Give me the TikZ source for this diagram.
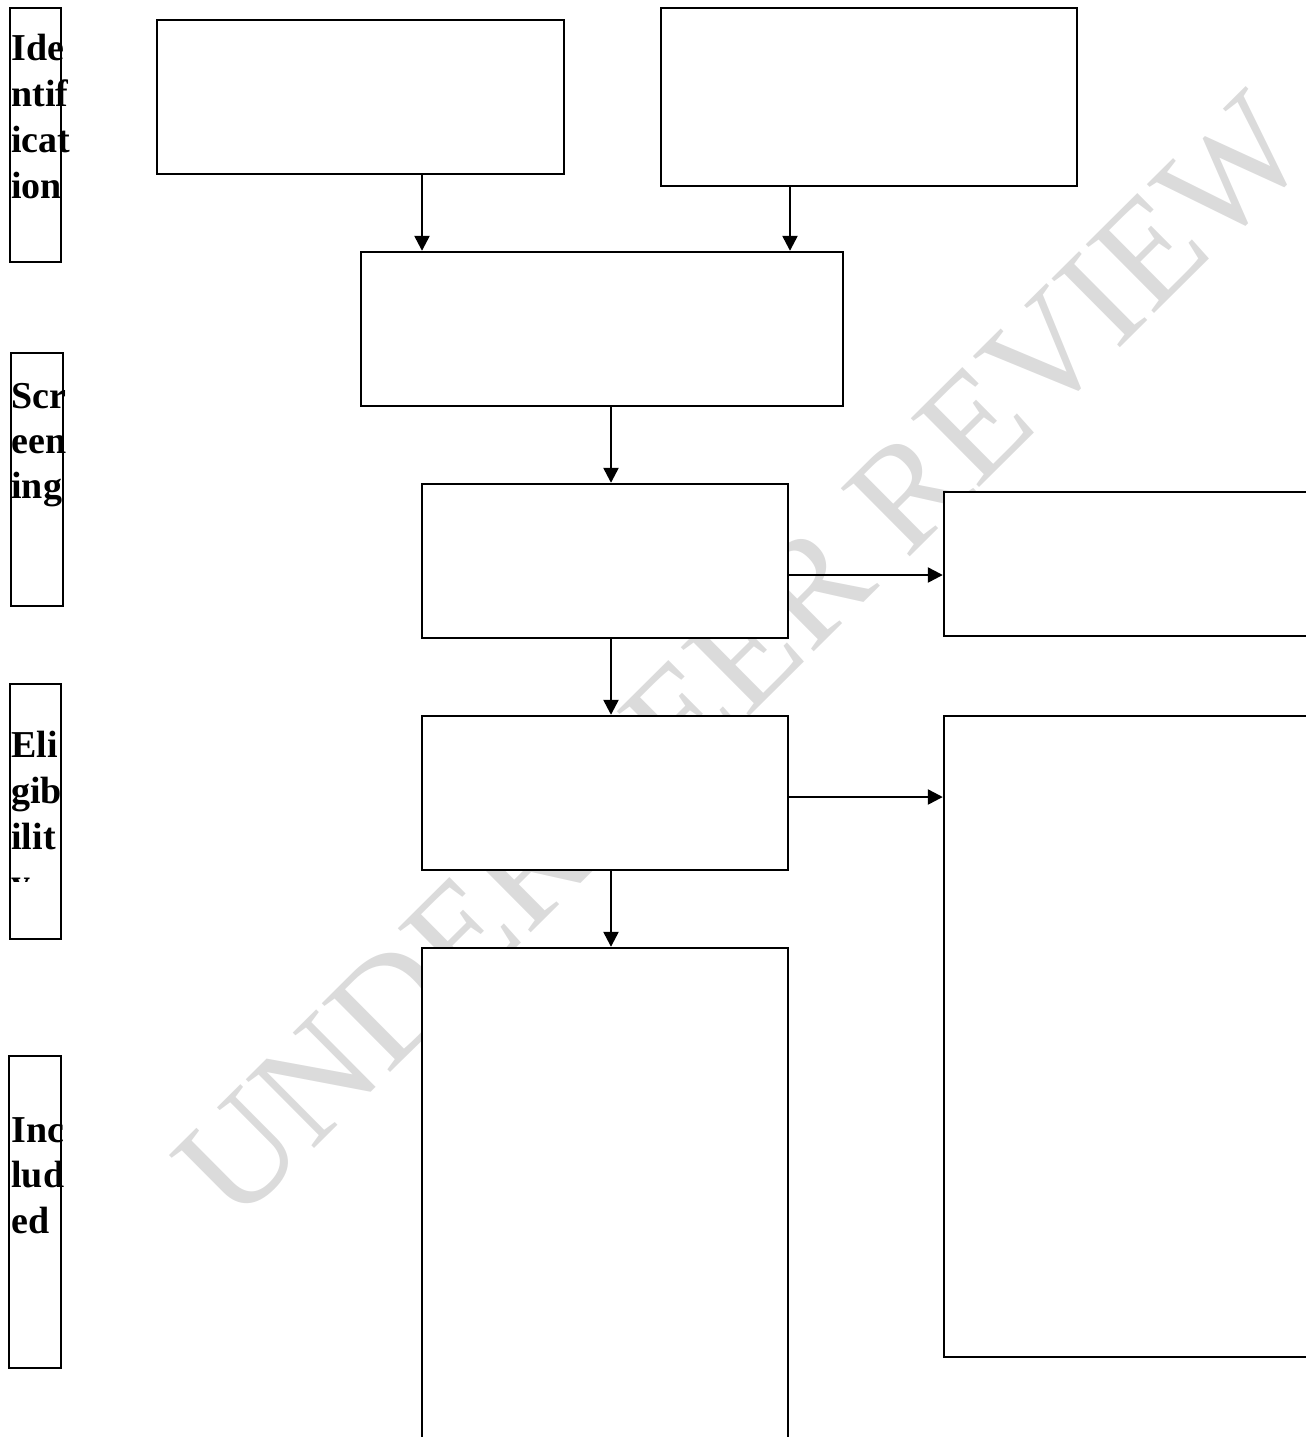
\documentclass[tikz,border=0pt]{standalone}
\usepackage{xcolor}
\usepackage{fontspec}
\setmainfont{Liberation Serif}
\usepackage{tikz}
\usetikzlibrary{positioning,arrows.meta}

\begin{document}
\begin{tikzpicture}[x=0.5pt,y=-0.5pt,
    box/.style={draw, fill=white, line width=1.2pt, inner sep=0pt},
    lbl/.style={anchor=base west, inner sep=0pt, font=\bfseries\fontsize{19}{23}\selectfont},
    wmark/.style={text=black!14, inner sep=0pt, font=\fontsize{74}{80}\selectfont},
    arr/.style={line width=1.2pt, -{Triangle[length=7.5pt,width=7.5pt]}}]

\useasboundingbox (0,0) rectangle (1306,1437);

% watermark
\node[wmark, rotate=44.8] (review) at (742,657) {UNDER PEER REVIEW};

% stage boxes on the left
\node[box, minimum width=25.5pt, minimum height=127pt] (sident) at (35.5,135) {};
\node[box, minimum width=26pt, minimum height=126.5pt] (sscreen) at (37,479.5) {};
\node[box, minimum width=25.5pt, minimum height=127.5pt] (selig) at (35.5,811.5) {};
\node[box, minimum width=26pt, minimum height=156pt] (sincl) at (35,1212) {};

\def\y{60}
\foreach \t [count=\i] in {Ide,ntif,icat,ion}
    \node[lbl] (ident\i) at (11,{\y+46*(\i-1)}) {\t};

\def\y{408}
\foreach \t [count=\i] in {Scr,een,ing}
    \node[lbl] (screen\i) at (11,{\y+45*(\i-1)}) {\t};

\begin{scope}
\clip (0,684) rectangle (90,881);
\def\y{757}
\foreach \t [count=\i] in {Eli,gib,ilit,y}
    \node[lbl] (elig\i) at (11,{\y+46*(\i-1)}) {\t};
\end{scope}

\def\y{1142}
\foreach \t [count=\i] in {Inc,lud,ed}
    \node[lbl] (incl\i) at (11,{\y+45.5*(\i-1)}) {\t};

% flow boxes
\node[box, minimum width=203.5pt, minimum height=77pt] (recdb) at (360.5,97) {};
\node[box, minimum width=208pt, minimum height=89pt] (recother) at (869,97) {};
\node[box, minimum width=241pt, minimum height=77pt] (dup) at (602,329) {};
\node[box, minimum width=183pt, minimum height=77pt] (scr) at (605,561) {};
\node[box, minimum width=193pt, minimum height=72pt] (excl) at (1137,564) {};
\node[box, minimum width=183pt, minimum height=77pt] (full) at (605,793) {};
\node[box, minimum width=193pt, minimum height=320.5pt] (fullexcl) at (1137,1036.5) {};
\node[box, minimum width=183pt, minimum height=256pt] (incl) at (605,1204) {};

% arrows
\draw[arr] ([xshift=30.75pt]recdb.south) -- ([xshift=30.75pt]recdb.south |- dup.north);
\draw[arr] ([xshift=-39.5pt]recother.south) -- ([xshift=-39.5pt]recother.south |- dup.north);
\draw[arr] ([xshift=4.5pt]dup.south) -- ([xshift=4.5pt]dup.south |- scr.north);
\draw[arr] ([yshift=-7pt]scr.east) -- ([yshift=-7pt]scr.east -| excl.west);
\draw[arr] ([xshift=3pt]scr.south) -- ([xshift=3pt]full.north);
\draw[arr] ([yshift=-2pt]full.east) -- ([yshift=-2pt]full.east -| fullexcl.west);
\draw[arr] ([xshift=3pt]full.south) -- ([xshift=3pt]incl.north);

\end{tikzpicture}
\end{document}
